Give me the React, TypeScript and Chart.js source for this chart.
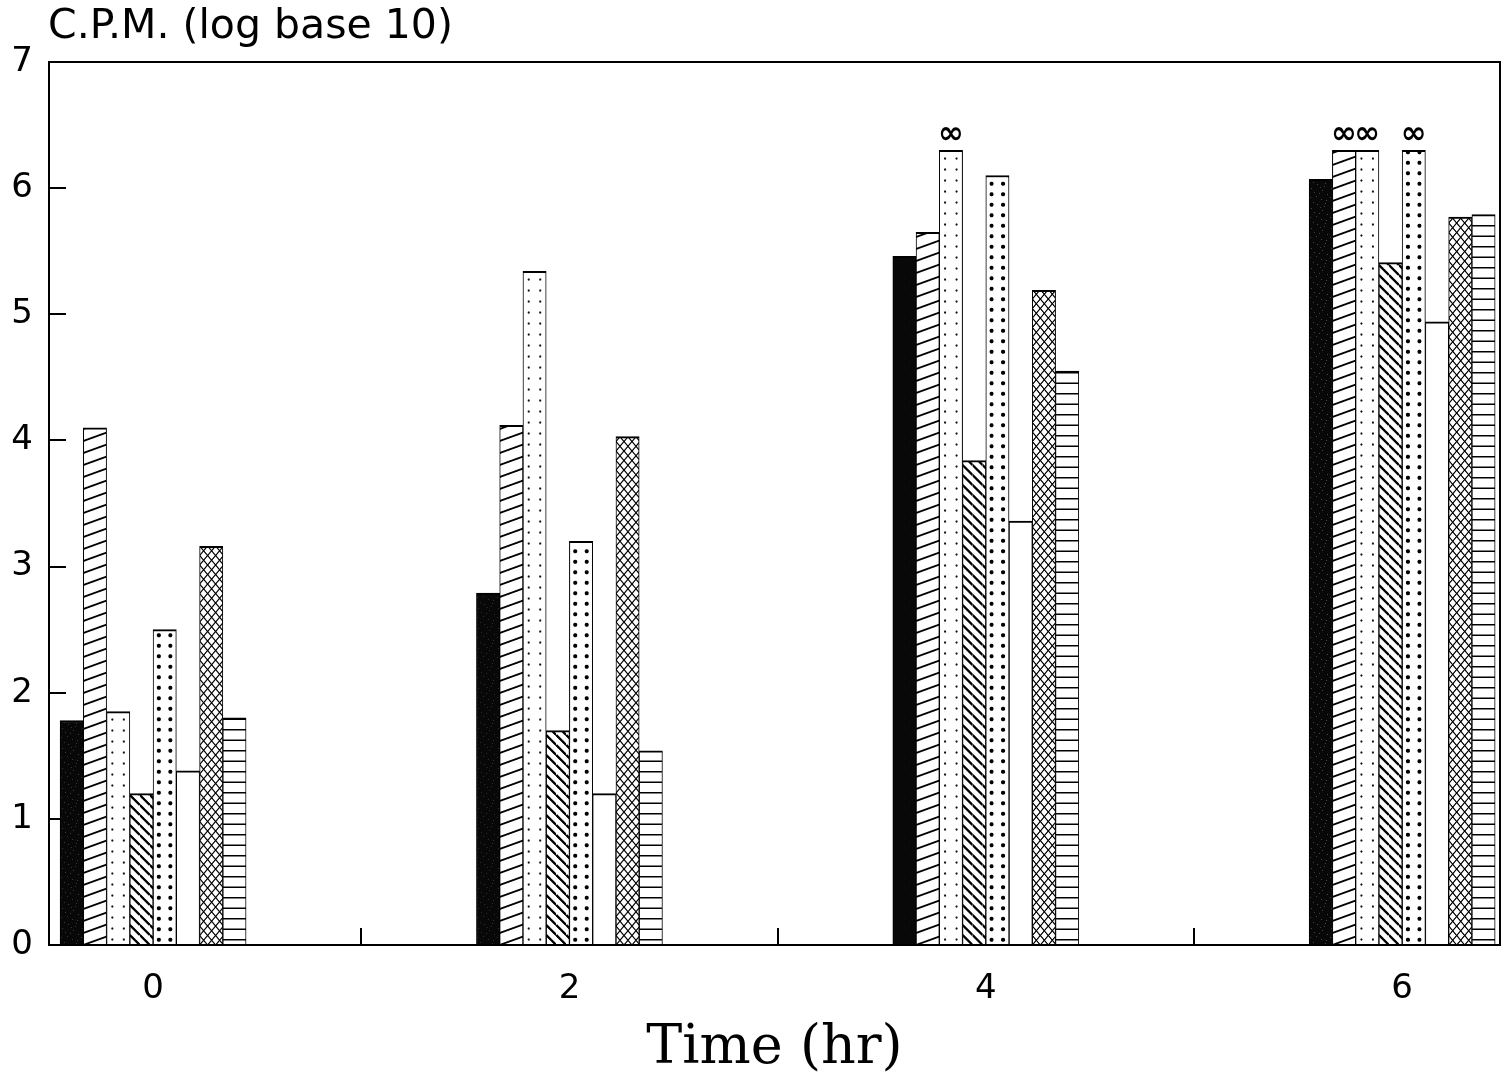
import { useEffect, useRef } from 'react';
import { Chart, registerables } from 'chart.js';

Chart.register(...registerables);

// Sampling times (hr) and axis ranges
const TIMES = [0, 2, 4, 6];
const Y_MIN = 0;
const Y_MAX = 7;
const X_MIN = -0.5;
const X_MAX = 6.47;

const Y_TITLE = 'C.P.M. (log base 10)';
const X_TITLE = 'Time (hr)';

// log10 counts per minute, one value per sampling time
const SOLID = [1.78, 2.79, 5.46, 6.07];
const RISING_HATCH = [4.1, 4.12, 5.65, 6.3];
const FINE_DOTS = [1.85, 5.34, 6.3, 6.3];
const FALLING_HATCH = [1.2, 1.7, 3.84, 5.41];
const BOLD_DOTS = [2.5, 3.2, 6.1, 6.3];
const OPEN = [1.38, 1.2, 3.36, 4.94];
const CROSS_HATCH = [3.16, 4.03, 5.19, 5.77];
const LINED = [1.8, 1.54, 4.55, 5.79];

// counts at this level were beyond the counter's range
const CEILING = 6.3;
const OFF_SCALE_MARK = '\u221E';

const BAR_W = 23.25;
const K = 2; // tiles are painted at 2x and scaled down in the pattern

type Painter = (g: CanvasRenderingContext2D, w: number, h: number) => void;

function makeTile(w: number, h: number, paint: Painter): HTMLCanvasElement {
  const c = document.createElement('canvas');
  c.width = Math.round(w * K);
  c.height = Math.round(h * K);
  const g = c.getContext('2d')!;
  g.scale(K, K);
  paint(g, w, h);
  return c;
}

const SPECKS: [number, number][] = [
  [2, 3], [7, 11], [13, 5], [17, 15], [4, 17], [10, 8], [15, 1], [1, 12],
  [8, 19], [18, 9], [12, 14], [5, 7], [16, 18], [11, 2],
];

function buildTiles(): (HTMLCanvasElement | string)[] {
  const solid = makeTile(20, 20, (g, w, h) => {
    g.fillStyle = '#080808';
    g.fillRect(0, 0, w, h);
    g.fillStyle = '#8c8c8c';
    SPECKS.forEach(([x, y]) => g.fillRect(x, y, 0.5, 0.5));
  });
  const rising = makeTile(33, 12, (g, w, h) => {
    g.fillStyle = '#fff';
    g.fillRect(0, 0, w, h);
    g.strokeStyle = '#000';
    g.lineWidth = 1.8;
    g.beginPath();
    for (let k = -1; k <= 1; k++) {
      g.moveTo(0, h + k * h);
      g.lineTo(w, k * h);
    }
    g.stroke();
  });
  const fine = makeTile(11.5, 11, (g, w, h) => {
    g.fillStyle = '#fff';
    g.fillRect(0, 0, w, h);
    g.fillStyle = '#111';
    g.beginPath();
    g.arc(w / 2, h / 2, 1.1, 0, Math.PI * 2);
    g.fill();
  });
  const falling = makeTile(10, 10, (g, w, h) => {
    g.fillStyle = '#fff';
    g.fillRect(0, 0, w, h);
    g.strokeStyle = '#000';
    g.lineWidth = 2.3;
    g.beginPath();
    for (let k = -1; k <= 1; k++) {
      g.moveTo(0, k * h);
      g.lineTo(w, h + k * h);
    }
    g.stroke();
  });
  const bold = makeTile(11.5, 10.5, (g, w, h) => {
    g.fillStyle = '#fff';
    g.fillRect(0, 0, w, h);
    g.fillStyle = '#000';
    g.beginPath();
    g.arc(w / 2, h / 2, 2.0, 0, Math.PI * 2);
    g.fill();
  });
  const cross = makeTile(8, 9.5, (g, w, h) => {
    g.fillStyle = '#fff';
    g.fillRect(0, 0, w, h);
    g.strokeStyle = '#000';
    g.lineWidth = 1.2;
    g.beginPath();
    for (let k = -1; k <= 1; k++) {
      g.moveTo(0, k * h);
      g.lineTo(w, h + k * h);
      g.moveTo(0, h + k * h);
      g.lineTo(w, k * h);
    }
    g.stroke();
  });
  const lined = makeTile(10, 10.5, (g, w, h) => {
    g.fillStyle = '#fff';
    g.fillRect(0, 0, w, h);
    g.strokeStyle = '#000';
    g.lineWidth = 1.5;
    g.beginPath();
    g.moveTo(0, h / 2);
    g.lineTo(w, h / 2);
    g.stroke();
  });
  return [solid, rising, fine, falling, bold, '#ffffff', cross, lined];
}

const SERIES = [SOLID, RISING_HATCH, FINE_DOTS, FALLING_HATCH, BOLD_DOTS, OPEN, CROSS_HATCH, LINED];

const decorations = {
  id: 'decorations',
  beforeDatasetsDraw(chart: any) {
    const { ctx, chartArea: a, scales } = chart;
    ctx.save();
    ctx.strokeStyle = '#000';
    ctx.lineWidth = 2;
    ctx.beginPath();
    scales.y.ticks.forEach((t: any) => {
      if (t.value <= Y_MIN || t.value >= Y_MAX) return;
      const py = Math.round(scales.y.getPixelForValue(t.value));
      ctx.moveTo(a.left, py);
      ctx.lineTo(a.left + 17, py);
    });
    scales.x.ticks.forEach((t: any) => {
      const px = Math.round(scales.x.getPixelForValue(t.value));
      ctx.moveTo(px, a.bottom);
      ctx.lineTo(px, a.bottom - 17);
    });
    ctx.stroke();
    ctx.restore();
  },
  afterDatasetsDraw(chart: any) {
    const { ctx, chartArea: a } = chart;
    ctx.save();
    ctx.strokeStyle = '#000';
    ctx.lineWidth = 2;
    ctx.strokeRect(a.left, a.top, a.right - a.left, a.bottom - a.top);

    ctx.fillStyle = '#000';
    ctx.font = 'bold 31px "DejaVu Sans"';
    ctx.textAlign = 'center';
    ctx.textBaseline = 'middle';
    chart.data.datasets.forEach((ds: any, i: number) => {
      const meta = chart.getDatasetMeta(i);
      ds.data.forEach((pt: any, j: number) => {
        if (pt.y >= CEILING) {
          const el = meta.data[j];
          ctx.fillText(OFF_SCALE_MARK, el.x, el.y - 15);
        }
      });
    });

    ctx.font = '41px "DejaVu Sans"';
    ctx.textAlign = 'left';
    ctx.textBaseline = 'alphabetic';
    ctx.fillText(Y_TITLE, a.left - 1, 38);
    ctx.restore();
  },
};

export default function App() {
  const ref = useRef<HTMLCanvasElement | null>(null);

  useEffect(() => {
    const canvas = ref.current;
    if (!canvas) return;
    const tiles = buildTiles();
    const cache = new Map<string, CanvasPattern | string>();

    // each bar gets its own pattern, anchored at the bar's left edge
    const fillFor = (ctx: any) => {
      const tile = tiles[ctx.datasetIndex];
      if (typeof tile === 'string') return tile;
      if (ctx.type !== 'data') return '#000';
      const chart = ctx.chart;
      const xs = chart.scales?.x;
      const area = chart.chartArea;
      if (!xs || !area) return '#000';
      const center = xs.getPixelForValue(TIMES[ctx.dataIndex]);
      const left = center - (BAR_W * SERIES.length) / 2 + ctx.datasetIndex * BAR_W;
      const bottom = area.bottom;
      const key = `${ctx.datasetIndex}:${left.toFixed(2)}:${bottom}`;
      let p = cache.get(key);
      if (!p) {
        const pat = chart.ctx.createPattern(tile, 'repeat')!;
        pat.setTransform(new DOMMatrix().translate(left, bottom).scale(1 / K));
        p = pat;
        cache.set(key, p);
      }
      return p;
    };

    const chart = new Chart(canvas, {
      type: 'bar',
      data: {
        datasets: SERIES.map((values, i) => ({
          label: `S${i + 1}`,
          data: TIMES.map((t, j) => ({ x: t, y: values[j] })),
          backgroundColor: fillFor,
          borderColor: '#000',
          borderWidth: { top: 2, left: 1, right: 1, bottom: 0 },
          borderSkipped: false,
          barThickness: BAR_W,
        })),
      },
      options: {
        animation: false,
        responsive: false,
        events: [],
        layout: { padding: { left: 0, top: 62, right: 3, bottom: 0 } },
        plugins: { legend: { display: false }, tooltip: { enabled: false } },
        scales: {
          x: {
            type: 'linear',
            offset: false,
            min: X_MIN,
            max: X_MAX,
            grid: { display: false, drawTicks: false, offset: false },
            border: { display: false },
            afterFit: (s: any) => {
              s.height = 137;
            },
            ticks: {
              stepSize: 1,
              includeBounds: false,
              autoSkip: false,
              maxRotation: 0,
              padding: 24,
              color: '#000',
              font: { family: 'DejaVu Sans', size: 34 },
              callback: (v: any) => (TIMES.includes(Number(v)) ? String(v) : ''),
            },
            title: {
              display: true,
              text: X_TITLE,
              color: '#000',
              font: { family: 'DejaVu Serif', size: 54 },
              padding: { top: 0, bottom: 1 },
            },
          },
          y: {
            min: Y_MIN,
            max: Y_MAX,
            grid: { display: false, drawTicks: false },
            border: { display: false },
            afterFit: (s: any) => {
              s.width = 49;
            },
            ticks: {
              stepSize: 1,
              padding: 16,
              color: '#000',
              font: { family: 'DejaVu Sans', size: 34 },
            },
          },
        },
      },
      plugins: [decorations],
    });
    return () => chart.destroy();
  }, []);

  return (
    <div style={{ position: 'absolute', left: 0, top: 0, width: 1503, height: 1082, background: '#fff' }}>
      <canvas ref={ref} width={1503} height={1082} style={{ display: 'block' }} />
    </div>
  );
}
